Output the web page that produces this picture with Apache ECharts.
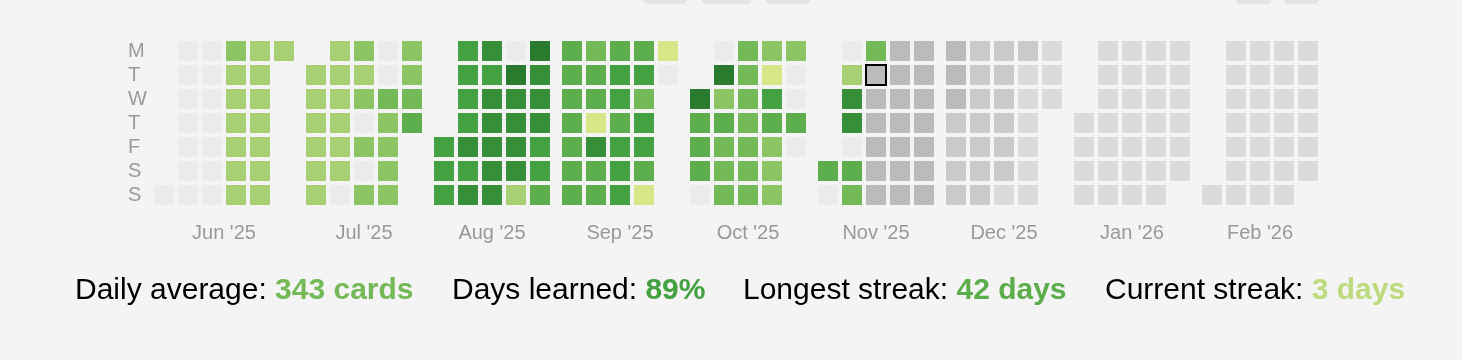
<!DOCTYPE html>
<html>
<head>
<meta charset="utf-8">
<script src="https://cdn.jsdelivr.net/npm/echarts@6/dist/echarts.min.js"></script>
<style>
html, body { margin: 0; padding: 0; background: #f4f4f4; }
#chart { width: 1462px; height: 360px; }
</style>
</head>
<body>
<div id="chart"></div>
<script>
// ---------- DATA ----------
const months = ['2025-06', '2025-07', '2025-08', '2025-09', '2025-10', '2025-11', '2025-12', '2026-01', '2026-02'];
const monthLabels = ["Jun '25", "Jul '25", "Aug '25", "Sep '25", "Oct '25", "Nov '25", "Dec '25", "Jan '26", "Feb '26"];
const dayLabels = ['M', 'T', 'W', 'T', 'F', 'S', 'S'];
const today = '2025-11-11';

// Activity level per day: 0 = no reviews, 1..8 = review intensity,
// -1..-3 = forecast of due cards (future days, darker = more due)
const jun25 = [0, 0,0,0,0,0,0,0, 0,0,0,0,0,0,0, 3,2,2,2,2,2,2, 2,2,2,2,2,2,2, 2];
const jul25 = [2,2,2,2,2,2, 2,2,2,2,2,2,0, 3,2,3,0,3,0,3, 0,0,4,3,3,3,3, 3,3,4,5];
const aug25 = [6,6,6, 6,6,6,6,7,6,7, 7,6,7,7,7,7,7, 0,8,7,7,7,7,2, 8,7,7,7,6,6,5];
const sep25 = [5,5,5,5,5,5,5, 4,5,5,1,7,5,5, 5,6,6,5,6,6,6, 5,6,4,6,6,5,1, 1,0];
const oct25 = [8,5,5,5,0, 0,8,3,5,4,4,4, 4,4,4,4,4,4,4, 3,1,6,5,3,3,3, 3,0,0,5,0];
const nov25 = [5,0, 0,2,7,7,0,5,4, 4,-1,-1,-1,-1,-1,-1, -1,-1,-1,-1,-1,-1,-1, -1,-1,-1,-1,-1,-1,-1];
const dec25 = [-1,-1,-1,-2,-2,-2,-2, -2,-2,-2,-2,-2,-2,-2, -2,-2,-2,-2,-2,-2,-3, -2,-3,-3,-3,-3,-3,-3, -3,-3,-3];
const jan26 = [-3,-3,-3,-3, -3,-3,-3,-3,-3,-3,-3, -3,-3,-3,-3,-3,-3,-3, -3,-3,-3,-3,-3,-3,-3, -3,-3,-3,-3,-3,-3];
const feb26 = [-3, -3,-3,-3,-3,-3,-3,-3, -3,-3,-3,-3,-3,-3,-3, -3,-3,-3,-3,-3,-3,-3, -3,-3,-3,-3,-3,-3];
const monthLevels = [jun25, jul25, aug25, sep25, oct25, nov25, dec25, jan26, feb26];

const statLabels = ['Daily average:', 'Days learned:', 'Longest streak:', 'Current streak:'];
const statValues = ['343 cards', '89%', '42 days', '3 days'];

// ---------- STYLE ----------
const levelColors = {
  '-3': '#dadada', '-2': '#cacaca', '-1': '#bbbbbb', '0': '#ebebeb',
  '1': '#d7e686', '2': '#a6d071', '3': '#8dc565', '4': '#74b957',
  '5': '#5cad4b', '6': '#44a142', '7': '#378f37', '8': '#2a7b2e'
};
const statColors = ['#74b957', '#44a142', '#5cad4b', '#bddb7d'];
const statLefts = [75, 452, 743, 1105];
const MONTH_GAP = 1 / 3;   // extra spacing between months, in column units
const FONT = '"Liberation Sans", Arial, Helvetica, sans-serif';

// ---------- BUILD ----------
const cells = [];
const monthCenters = [];
let colStart = 0;
months.forEach((m, mi) => {
  const [y, mo] = m.split('-').map(Number);
  const first = (new Date(y, mo - 1, 1).getDay() + 6) % 7; // Monday = 0
  const levels = monthLevels[mi];
  const nCols = Math.ceil((first + levels.length) / 7);
  const gap = mi * MONTH_GAP;
  levels.forEach((lv, i) => {
    const off = first + i;
    const x = colStart + Math.floor(off / 7) + gap;
    const dateStr = m + '-' + String(i + 1).padStart(2, '0');
    cells.push([x, off % 7, lv, dateStr === today ? 1 : 0, dateStr]);
  });
  monthCenters.push(colStart + gap + (nCols - 1) / 2);
  colStart += nCols;
});
const xMax = cells[cells.length - 1][0] + 0.5;

const chart = echarts.init(document.getElementById('chart'));
chart.setOption({
  backgroundColor: '#f4f4f4',
  animation: false,
  grid: { left: 152, right: 142, top: 39, height: 168 },
  xAxis: {
    type: 'value', min: -0.5, max: xMax,
    axisLine: { show: false }, axisTick: { show: false }, splitLine: { show: false },
    axisLabel: {
      customValues: monthCenters,
      formatter: (v) => {
        const i = monthCenters.findIndex(c => Math.abs(c - v) < 1e-6);
        return i >= 0 ? monthLabels[i] : '';
      },
      color: '#999999', fontSize: 20, fontFamily: FONT, margin: 16
    }
  },
  yAxis: {
    type: 'category', data: dayLabels, inverse: true,
    axisLine: { show: false }, axisTick: { show: false }, splitLine: { show: false },
    axisLabel: { align: 'left', margin: 24, color: '#999999', fontSize: 20, fontFamily: FONT, interval: 0 }
  },
  visualMap: {
    type: 'piecewise', show: false, dimension: 2, seriesIndex: 0,
    pieces: Object.keys(levelColors).map(k => ({ value: Number(k), color: levelColors[k] }))
  },
  series: [{
    type: 'custom',
    coordinateSystem: 'cartesian2d',
    encode: { x: 0, y: 1 },
    data: cells,
    renderItem: (params, api) => {
      const c = api.coord([api.value(0), api.value(1)]);
      const s = api.size([1, 1]);
      const w = s[0] - 4, h = s[1] - 4;
      const isToday = api.value(3) === 1;
      return {
        type: 'rect',
        shape: { x: Math.round(c[0] - w / 2), y: Math.round(c[1] - h / 2), width: w, height: h },
        style: { fill: api.visual('color'), stroke: isToday ? '#000' : null, lineWidth: isToday ? 2 : 0 },
        z2: isToday ? 10 : 1
      };
    }
  }],
  graphic: [
    ...[[642, 687], [701, 752], [765, 811], [1236, 1272], [1284, 1319]].map(b => ({
      type: 'rect', shape: { x: b[0], y: -10, width: b[1] - b[0], height: 14, r: 5 },
      style: { fill: '#e4e4e4' }, silent: true
    })),
    ...statLabels.map((lab, i) => ({
      type: 'text', x: statLefts[i], y: 291,
      style: {
        text: '{l|' + lab + ' }{v|' + statValues[i] + '}',
        verticalAlign: 'middle',
        rich: {
          l: { fontSize: 30, fontFamily: FONT, fill: '#000000', color: '#000000' },
          v: { fontSize: 30, fontFamily: FONT, fontWeight: 'bold', fill: statColors[i], color: statColors[i] }
        }
      }
    }))
  ]
});
</script>
</body>
</html>
